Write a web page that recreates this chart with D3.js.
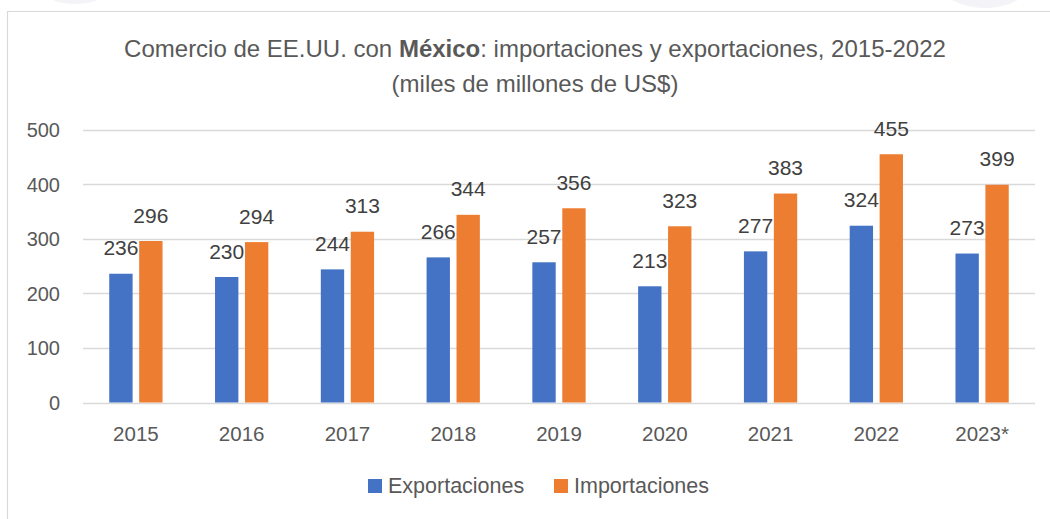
<!DOCTYPE html>
<html>
<head>
<meta charset="utf-8">
<script src="https://cdn.jsdelivr.net/npm/d3@7"></script>
<style>
  html, body { margin: 0; padding: 0; background: #ffffff; }
  svg { display: block; font-family: "Liberation Sans", Arial, sans-serif; }
</style>
</head>
<body>
<svg id="chart" width="1050" height="519"></svg>
<script>
// ---- data ----
const categories = ["2015", "2016", "2017", "2018", "2019", "2020", "2021", "2022", "2023*"];
const exportaciones = [236, 230, 244, 266, 257, 213, 277, 324, 273];
const importaciones = [296, 294, 313, 344, 356, 323, 383, 455, 399];
const seriesNames = ["Exportaciones", "Importaciones"];
const yTicks = [0, 100, 200, 300, 400, 500];
const titleLine1 = ["Comercio de EE.UU. con ", "México", ": importaciones y exportaciones, 2015-2022"];
const titleLine2 = "(miles de millones de US$)";

// ---- style ----
const colors = { Exportaciones: "#4472C4", Importaciones: "#ED7D31" };
const textColor = "#595959";
const gridColor = "#D9D9D9";

const svg = d3.select("#chart");

// faint decorative shapes at top corners
svg.append("ellipse").attr("cx", 75).attr("cy", -20).attr("rx", 40).attr("ry", 24).attr("fill", "#F3F3F8");
svg.append("ellipse").attr("cx", 985).attr("cy", -18).attr("rx", 45).attr("ry", 26).attr("fill", "#F3F3F8");

// chart border
svg.append("path")
  .attr("d", "M7.5,519 L7.5,11.5 L1050,11.5")
  .attr("fill", "none").attr("stroke", "#D9D9D9").attr("stroke-width", 1.2);

// scales
const x0 = d3.scaleBand().domain(categories).range([83, 1035]).paddingInner(0).paddingOuter(0);
const x1 = d3.scaleBand().domain(seriesNames).range([0, x0.bandwidth()]).paddingInner(0.22).paddingOuter(0.877);
const y = d3.scaleLinear().domain([0, 500]).range([402.5, 129.7]);

// gridlines
svg.append("g").selectAll("line").data(yTicks).join("line")
  .attr("x1", 83).attr("x2", 1035)
  .attr("y1", d => Math.round(y(d)) + 0.5).attr("y2", d => Math.round(y(d)) + 0.5)
  .attr("stroke", gridColor).attr("stroke-width", 1.5);

// y tick labels
const yAxis = d3.axisLeft(y).tickValues(yTicks).tickSize(0).tickPadding(0);
const gy = svg.append("g").attr("transform", "translate(60,0)").call(yAxis);
gy.select(".domain").remove();
gy.selectAll("text").attr("fill", textColor).style("font-size", "20px")
  .style("font-family", "'Liberation Sans', Arial, sans-serif").attr("dy", "0.35em");

// x tick labels
const xAxis = d3.axisBottom(x0).tickSize(0).tickPadding(0);
const gx = svg.append("g").attr("transform", "translate(0,426)").call(xAxis);
gx.select(".domain").remove();
gx.selectAll("text").attr("fill", textColor).style("font-size", "20.5px")
  .style("font-family", "'Liberation Sans', Arial, sans-serif").attr("dy", "0.75em");

// data rows
const rows = categories.map((c, i) => ({
  cat: c,
  values: [
    { key: "Exportaciones", value: exportaciones[i] },
    { key: "Importaciones", value: importaciones[i] }
  ]
}));

const groups = svg.append("g").selectAll("g").data(rows).join("g")
  .attr("transform", d => `translate(${x0(d.cat)},0)`);

groups.selectAll("rect").data(d => d.values).join("rect")
  .attr("x", d => x1(d.key))
  .attr("width", x1.bandwidth())
  .attr("y", d => y(d.value))
  .attr("height", d => y(0) - y(d.value))
  .attr("fill", d => colors[d.key]);

// data labels
groups.selectAll("text.lbl").data(d => d.values).join("text")
  .attr("class", "lbl")
  .attr("x", d => x1(d.key) + x1.bandwidth() / 2)
  .attr("y", d => y(d.value) - 18.5)
  .attr("text-anchor", "middle")
  .attr("fill", "#404040")
  .style("font-size", "21px")
  .text(d => d.value);

// title
const t1 = svg.append("text").attr("x", 535).attr("y", 56.5).attr("text-anchor", "middle")
  .attr("fill", textColor).style("font-size", "24px");
titleLine1.forEach((s, i) => {
  t1.append("tspan").attr("font-weight", i === 1 ? "bold" : "normal").text(s);
});
svg.append("text").attr("x", 535).attr("y", 91.5).attr("text-anchor", "middle")
  .attr("fill", textColor).style("font-size", "24px").text(titleLine2);

// legend
const legendItems = [
  { key: "Exportaciones", sx: 368, tx: 388 },
  { key: "Importaciones", sx: 554, tx: 574 }
];
const lg = svg.append("g");
lg.selectAll("rect").data(legendItems).join("rect")
  .attr("x", d => d.sx).attr("y", 479).attr("width", 14).attr("height", 14)
  .attr("fill", d => colors[d.key]);
lg.selectAll("text").data(legendItems).join("text")
  .attr("x", d => d.tx).attr("y", 493)
  .attr("fill", textColor).style("font-size", "21.5px")
  .text(d => d.key);
</script>
</body>
</html>
